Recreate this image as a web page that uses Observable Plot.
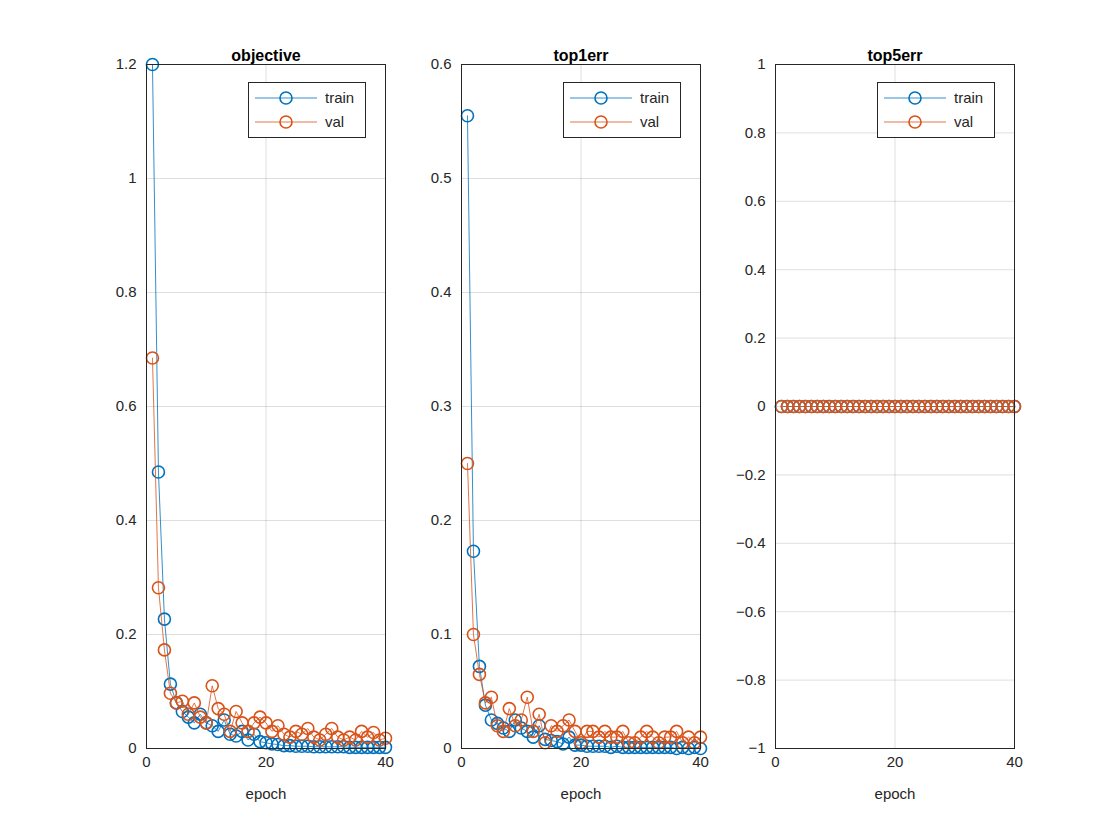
<!DOCTYPE html>
<html>
<head>
<meta charset="utf-8">
<script src="https://cdn.jsdelivr.net/npm/d3@7"></script>
<script src="https://cdn.jsdelivr.net/npm/@observablehq/plot@0.6"></script>
<style>
  body { margin: 0; background: #fff; font-family: "Liberation Sans", sans-serif; }
  #wrap { position: relative; width: 1120px; height: 840px; }
  .panel { position: absolute; }
  .legend { position: absolute; background: #fff; border: 1px solid #262626; font-size: 15px; color: #262626; padding: 3px 6px; line-height: 24px; }
  .legend div { display: flex; align-items: center; }
  .legend svg { margin-right: 8px; }
</style>
</head>
<body>
<div id="wrap"></div>
<script>
const epochs = d3.range(1, 41)

const objTrain = [1.2, 0.485, 0.227, 0.113, 0.08, 0.065, 0.055, 0.045, 0.06, 0.045,
  0.04, 0.03, 0.05, 0.025, 0.022, 0.03, 0.015, 0.025, 0.012, 0.01,
  0.008, 0.007, 0.005, 0.005, 0.004, 0.004, 0.004, 0.003, 0.003, 0.003,
  0.003, 0.003, 0.003, 0.002, 0.002, 0.002, 0.002, 0.002, 0.002, 0.002]
const objVal = [0.685, 0.282, 0.173, 0.097, 0.08, 0.083, 0.06, 0.08, 0.055, 0.045,
  0.11, 0.07, 0.06, 0.03, 0.065, 0.045, 0.03, 0.045, 0.055, 0.045,
  0.03, 0.04, 0.025, 0.02, 0.03, 0.025, 0.035, 0.02, 0.015, 0.025,
  0.035, 0.02, 0.015, 0.02, 0.015, 0.03, 0.02, 0.028, 0.015, 0.018]
const top1Train = [0.555, 0.173, 0.072, 0.038, 0.025, 0.022, 0.018, 0.015, 0.025, 0.018,
  0.015, 0.01, 0.02, 0.008, 0.007, 0.006, 0.004, 0.01, 0.003, 0.003,
  0.002, 0.002, 0.002, 0.002, 0.001, 0.002, 0.001, 0.001, 0.001, 0.001,
  0.001, 0.001, 0.001, 0.001, 0.001, 0, 0.001, 0, 0.001, 0]
const top1Val = [0.25, 0.1, 0.065, 0.04, 0.045, 0.02, 0.015, 0.035, 0.02, 0.025,
  0.045, 0.015, 0.03, 0.005, 0.02, 0.015, 0.02, 0.025, 0.015, 0.005,
  0.015, 0.015, 0.01, 0.015, 0.01, 0.01, 0.015, 0.005, 0.005, 0.01,
  0.015, 0.01, 0.005, 0.01, 0.01, 0.015, 0.005, 0.01, 0.005, 0.01]
const top5Train = epochs.map(() => 0)
const top5Val = epochs.map(() => 0)

const blue = '#0072BD', orange = '#D95319'
const fmt = d => d3.format('~g')(+d.toFixed(1))

const panels = [
  {title: 'objective', left: 146, train: objTrain, val: objVal, domain: [0, 1.2], ticks: d3.range(0, 1.21, 0.2)},
  {title: 'top1err', left: 461, train: top1Train, val: top1Val, domain: [0, 0.6], ticks: d3.range(0, 0.61, 0.1)},
  {title: 'top5err', left: 775, train: top5Train, val: top5Val, domain: [-1, 1], ticks: d3.range(-1, 1.01, 0.2)}
]

const mL = 60, mR = 10, mT = 34, mB = 70, w = 239, h = 684, axTop = 64

panels.forEach(p => {
  const rows = epochs.map((e, i) => ({epoch: e, train: p.train[i], val: p.val[i]}))
  const chart = Plot.plot({
    width: mL + w + mR,
    height: mT + h + mB,
    marginLeft: mL, marginRight: mR, marginTop: mT, marginBottom: mB,
    style: {fontFamily: '"Liberation Sans", sans-serif', fontSize: '15px', color: '#262626', overflow: 'visible'},
    x: {domain: [0, 40]},
    y: {domain: p.domain},
    marks: [
      Plot.gridX([0, 20, 40], {stroke: '#000', strokeOpacity: 0.13}),
      Plot.gridY(p.ticks, {stroke: '#000', strokeOpacity: 0.13}),
      Plot.line(rows, {x: 'epoch', y: 'train', stroke: blue, strokeWidth: 0.8}),
      Plot.dot(rows, {x: 'epoch', y: 'train', r: 6, stroke: blue, strokeWidth: 1.6}),
      Plot.line(rows, {x: 'epoch', y: 'val', stroke: orange, strokeWidth: 0.8}),
      Plot.dot(rows, {x: 'epoch', y: 'val', r: 6, stroke: orange, strokeWidth: 1.6}),
      Plot.frame({stroke: '#262626', strokeWidth: 1}),
      Plot.axisX({ticks: [0, 20, 40], tickSize: 0, tickPadding: 8, fontSize: 15,
        label: 'epoch', labelAnchor: 'center', labelArrow: 'none', labelOffset: 50}),
      Plot.axisY({ticks: p.ticks, tickFormat: fmt, tickSize: 0, tickPadding: 10, fontSize: 15, label: null}),
      Plot.text([p.title], {frameAnchor: 'top', dy: -15, fontWeight: 'bold', fontSize: 16, fill: '#000'})
    ]
  })
  const div = document.createElement('div')
  div.className = 'panel'
  div.style.left = (p.left - mL) + 'px'
  div.style.top = (axTop - mT) + 'px'
  div.append(chart)
  document.getElementById('wrap').append(div)

  const lg = document.createElement('div')
  lg.className = 'legend'
  lg.style.left = (p.left + 102) + 'px'
  lg.style.top = (axTop + 18) + 'px'
  lg.style.width = '104px'
  const item = (c, t) => `<div><svg width="62" height="16"><line x1="0" x2="62" y1="8" y2="8" stroke="${c}" stroke-width="0.8"/><circle cx="31" cy="8" r="6" fill="none" stroke="${c}" stroke-width="1.6"/></svg>${t}</div>`
  lg.innerHTML = item(blue, 'train') + item(orange, 'val')
  document.getElementById('wrap').append(lg)
})
</script>
</body>
</html>
